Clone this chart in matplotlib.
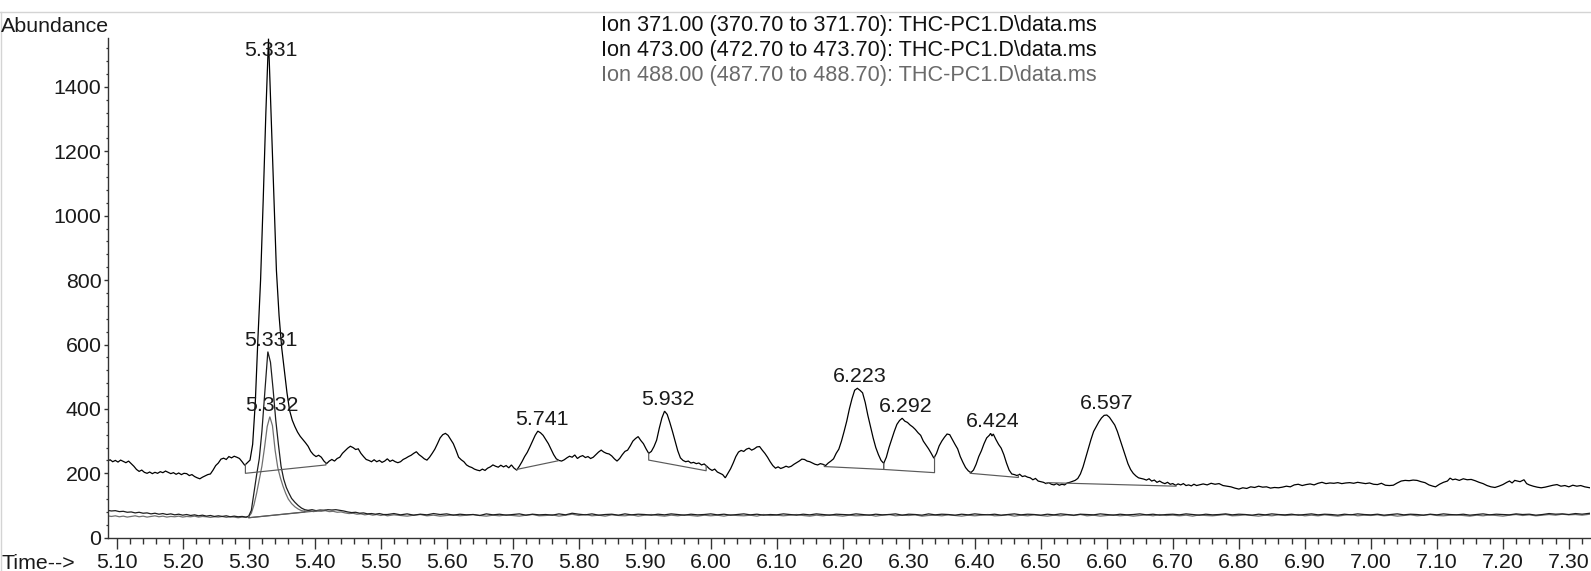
import matplotlib
matplotlib.use("Agg")
import matplotlib.pyplot as plt
from matplotlib.ticker import MultipleLocator, FormatStrFormatter
from matplotlib.lines import Line2D
import numpy as np

plt.rcParams['font.family'] = ['Liberation Sans', 'DejaVu Sans']

# ---------------- data ----------------
ion371 = [
(5.086,238),(5.090,242),(5.094,236),(5.098,240),(5.102,235),(5.106,241),(5.110,237),(5.114,233),(5.118,238),(5.122,230),
(5.126,222),(5.130,212),(5.134,206),(5.138,210),(5.142,203),(5.146,200),(5.150,204),(5.154,199),(5.158,203),(5.162,200),
(5.166,205),(5.170,202),(5.174,207),(5.178,203),(5.182,199),(5.186,202),(5.190,197),(5.194,201),(5.198,196),(5.202,200),
(5.206,199),(5.210,193),(5.214,196),(5.218,190),(5.222,186),(5.226,183),(5.230,188),(5.234,192),(5.238,196),(5.242,198),
(5.246,210),(5.250,224),(5.254,232),(5.258,244),(5.262,247),(5.266,243),(5.270,252),(5.274,248),(5.278,253),(5.282,250),
(5.286,246),(5.290,236),(5.294,225),(5.298,233),(5.302,241),(5.306,290),(5.310,420),(5.314,620),(5.318,800),(5.322,1050),
(5.326,1320),(5.330,1550),(5.334,1310),(5.338,1060),(5.342,830),(5.346,690),(5.350,590),(5.354,520),(5.358,450),(5.362,395),
(5.366,365),(5.370,345),(5.374,328),(5.378,315),(5.382,305),(5.386,295),(5.390,284),(5.394,268),(5.398,258),(5.402,252),
(5.406,256),(5.410,250),(5.414,238),(5.418,230),(5.422,238),(5.426,243),(5.430,238),(5.434,246),(5.438,250),(5.442,262),
(5.446,270),(5.450,278),(5.454,284),(5.458,280),(5.462,274),(5.466,276),(5.470,262),(5.474,252),(5.478,243),(5.482,240),
(5.486,236),(5.490,242),(5.494,236),(5.498,240),(5.502,234),(5.506,238),(5.510,245),(5.514,237),(5.518,241),(5.522,236),
(5.526,233),(5.530,236),(5.534,243),(5.538,247),(5.542,252),(5.546,256),(5.550,262),(5.554,267),(5.558,258),(5.562,252),
(5.566,245),(5.570,241),(5.574,250),(5.578,262),(5.582,275),(5.586,292),(5.590,310),(5.594,320),(5.598,324),(5.602,318),
(5.606,305),(5.610,292),(5.614,272),(5.618,250),(5.622,242),(5.626,236),(5.630,226),(5.634,221),(5.638,218),(5.642,213),
(5.646,210),(5.650,208),(5.654,213),(5.658,209),(5.662,216),(5.666,220),(5.670,226),(5.674,222),(5.678,219),(5.682,225),
(5.686,220),(5.690,224),(5.694,217),(5.698,226),(5.702,216),(5.706,210),(5.710,222),(5.714,236),(5.718,252),(5.722,265),
(5.726,282),(5.730,300),(5.734,318),(5.738,331),(5.742,326),(5.746,318),(5.750,305),(5.754,292),(5.758,275),(5.762,258),
(5.766,245),(5.770,240),(5.774,238),(5.778,242),(5.782,248),(5.786,253),(5.790,250),(5.794,257),(5.798,246),(5.802,252),
(5.806,255),(5.810,249),(5.814,252),(5.818,246),(5.822,250),(5.826,258),(5.830,266),(5.834,272),(5.838,266),(5.842,262),
(5.846,260),(5.850,254),(5.854,245),(5.858,238),(5.862,246),(5.866,258),(5.870,268),(5.874,272),(5.878,285),(5.882,300),
(5.886,308),(5.890,314),(5.894,302),(5.898,292),(5.902,276),(5.906,262),(5.910,268),(5.914,283),(5.918,303),(5.922,340),
(5.926,372),(5.930,393),(5.934,383),(5.938,358),(5.942,330),(5.946,300),(5.950,270),(5.954,248),(5.958,240),(5.962,236),
(5.966,238),(5.970,232),(5.974,234),(5.978,230),(5.982,232),(5.986,226),(5.990,229),(5.994,222),(5.998,214),(6.002,209),
(6.006,213),(6.010,204),(6.014,200),(6.018,196),(6.022,186),(6.026,200),(6.030,214),(6.034,232),(6.038,252),(6.042,266),
(6.046,271),(6.050,268),(6.054,275),(6.058,278),(6.062,272),(6.066,276),(6.070,282),(6.074,283),(6.078,272),(6.082,262),
(6.086,250),(6.090,236),(6.094,224),(6.098,216),(6.102,220),(6.106,215),(6.110,218),(6.114,222),(6.118,219),(6.122,222),
(6.126,228),(6.130,233),(6.134,238),(6.138,244),(6.142,243),(6.146,238),(6.150,236),(6.154,232),(6.158,228),(6.162,226),
(6.166,230),(6.170,228),(6.174,224),(6.178,232),(6.182,238),(6.186,245),(6.190,262),(6.194,275),(6.198,300),(6.202,330),
(6.206,362),(6.210,400),(6.214,432),(6.218,458),(6.222,464),(6.226,458),(6.230,450),(6.234,420),(6.238,380),(6.242,345),
(6.246,310),(6.250,280),(6.254,258),(6.258,240),(6.262,231),(6.266,250),(6.270,280),(6.274,305),(6.278,330),(6.282,352),
(6.286,364),(6.290,371),(6.294,362),(6.298,358),(6.302,350),(6.306,344),(6.310,336),(6.314,326),(6.318,318),(6.322,300),
(6.326,288),(6.330,276),(6.334,262),(6.338,247),(6.342,262),(6.346,285),(6.350,300),(6.354,312),(6.358,322),(6.362,320),
(6.366,305),(6.370,290),(6.374,276),(6.378,252),(6.382,234),(6.386,218),(6.390,208),(6.394,202),(6.398,210),(6.402,228),
(6.406,252),(6.410,270),(6.414,292),(6.418,310),(6.422,318),(6.424,324),(6.426,316),(6.428,322),(6.432,305),(6.436,290),
(6.440,278),(6.444,258),(6.448,232),(6.452,210),(6.456,198),(6.460,196),(6.464,193),(6.468,197),(6.472,190),(6.476,192),
(6.480,188),(6.484,186),(6.488,180),(6.492,184),(6.496,176),(6.500,174),(6.504,172),(6.508,168),(6.512,171),(6.516,166),
(6.520,164),(6.524,168),(6.528,163),(6.532,166),(6.536,164),(6.540,170),(6.544,172),(6.548,175),(6.552,178),(6.556,184),
(6.560,198),(6.564,220),(6.568,248),(6.572,275),(6.576,305),(6.580,330),(6.584,345),(6.588,360),(6.592,372),(6.596,380),
(6.600,381),(6.604,374),(6.608,362),(6.612,350),(6.616,330),(6.620,305),(6.624,280),(6.628,255),(6.632,230),(6.636,212),
(6.640,200),(6.644,192),(6.648,186),(6.652,184),(6.656,182),(6.660,179),(6.664,183),(6.668,176),(6.672,179),(6.676,172),
(6.680,176),(6.684,171),(6.688,168),(6.692,172),(6.696,166),(6.700,168),(6.704,163),(6.708,167),(6.712,164),(6.716,168),
(6.720,162),(6.724,164),(6.728,161),(6.732,166),(6.736,162),(6.740,164),(6.746,167),(6.752,164),(6.758,169),(6.764,166),
(6.770,168),(6.776,162),(6.782,160),(6.788,158),(6.794,154),(6.800,151),(6.806,155),(6.812,153),(6.818,158),(6.824,156),
(6.830,160),(6.836,157),(6.842,158),(6.848,154),(6.854,156),(6.860,155),(6.866,157),(6.872,160),(6.878,158),(6.884,164),
(6.890,166),(6.896,162),(6.902,165),(6.908,167),(6.914,164),(6.920,169),(6.926,172),(6.932,168),(6.938,170),(6.944,169),
(6.950,171),(6.956,168),(6.962,170),(6.968,171),(6.974,169),(6.980,172),(6.986,170),(6.992,168),(6.998,170),(7.004,166),
(7.010,165),(7.016,169),(7.022,163),(7.028,162),(7.034,163),(7.040,170),(7.046,176),(7.052,178),(7.058,177),(7.064,179),
(7.070,178),(7.076,174),(7.082,171),(7.088,164),(7.094,160),(7.098,158),(7.104,166),(7.110,172),(7.116,176),(7.120,185),
(7.124,180),(7.128,182),(7.134,178),(7.140,183),(7.146,180),(7.152,181),(7.158,177),(7.164,172),(7.170,168),(7.176,162),
(7.182,158),(7.188,156),(7.194,160),(7.200,165),(7.206,172),(7.210,176),(7.214,170),(7.218,178),(7.222,176),(7.226,174),
(7.232,180),(7.236,168),(7.240,164),(7.246,160),(7.252,157),(7.258,155),(7.264,157),(7.270,160),(7.276,163),(7.282,165),
(7.288,160),(7.294,162),(7.300,158),(7.306,163),(7.312,160),(7.318,162),(7.324,158),(7.332,155),
]

ion473 = [
(5.086,85),(5.092,83),(5.098,84),(5.104,81),(5.110,82),(5.116,79),(5.122,80),(5.128,77),(5.134,79),(5.140,76),
(5.146,77),(5.152,74),(5.158,76),(5.164,73),(5.170,75),(5.176,72),(5.182,74),(5.188,71),(5.194,73),(5.200,70),
(5.206,72),(5.212,69),(5.218,71),(5.224,68),(5.230,70),(5.236,67),(5.242,69),(5.248,66),(5.254,68),(5.260,66),
(5.266,68),(5.272,65),(5.278,67),(5.284,65),(5.290,66),(5.296,64),(5.300,67),(5.304,85),(5.308,140),(5.312,195),
(5.316,245),(5.320,330),(5.324,440),(5.3275,540),(5.329,578),(5.333,545),(5.337,460),(5.341,365),(5.345,290),(5.349,222),
(5.353,182),(5.357,156),(5.361,138),(5.365,122),(5.370,110),(5.375,100),(5.380,92),(5.385,87),(5.390,85),(5.396,87),
(5.402,84),(5.408,86),(5.414,85),(5.420,87),(5.426,86),(5.432,87),(5.438,85),(5.444,83),(5.450,80),(5.456,78),
(5.462,79),(5.468,76),(5.474,77),(5.480,74),(5.486,75),(5.492,73),(5.498,75),(5.504,72),
(5.51,72),(5.52,75),(5.53,71),(5.54,74),(5.55,70),(5.56,73),(5.57,71),(5.58,75),(5.59,72),(5.60,74),
(5.61,70),(5.62,73),(5.63,71),(5.64,72),(5.65,69),(5.66,74),(5.67,71),(5.68,73),(5.69,70),(5.70,72),
(5.71,74),(5.72,70),(5.73,73),(5.74,71),(5.75,72),(5.76,70),(5.77,74),(5.78,71),(5.79,76),(5.80,73),
(5.81,71),(5.82,74),(5.83,70),(5.84,72),(5.85,73),(5.86,70),(5.87,74),(5.88,71),(5.89,73),(5.90,72),
(5.91,70),(5.92,73),(5.93,71),(5.94,74),(5.95,72),(5.96,70),(5.97,73),(5.98,71),(5.99,72),(6.00,74),
(6.01,71),(6.02,73),(6.03,70),(6.04,72),(6.05,74),(6.06,71),(6.07,73),(6.08,70),(6.09,72),(6.10,71),
(6.11,74),(6.12,72),(6.13,70),(6.14,73),(6.15,71),(6.16,74),(6.17,72),(6.18,70),(6.19,73),(6.20,72),
(6.21,71),(6.22,74),(6.23,72),(6.24,70),(6.25,73),(6.26,71),(6.27,72),(6.28,74),(6.29,70),(6.30,73),
(6.31,72),(6.32,70),(6.33,74),(6.34,71),(6.35,73),(6.36,72),(6.37,70),(6.38,73),(6.39,71),(6.40,74),
(6.41,72),(6.42,71),(6.43,73),(6.44,70),(6.45,72),(6.46,74),(6.47,71),(6.48,73),(6.49,72),(6.50,70),
(6.51,73),(6.52,71),(6.53,74),(6.54,72),(6.55,70),(6.56,73),(6.57,72),(6.58,71),(6.59,74),(6.60,72),
(6.61,70),(6.62,73),(6.63,71),(6.64,72),(6.65,74),(6.66,71),(6.67,73),(6.68,70),(6.69,72),(6.70,73),
(6.71,71),(6.72,74),(6.73,72),(6.74,70),(6.75,73),(6.76,71),(6.77,72),(6.78,74),(6.79,71),(6.80,73),
(6.81,72),(6.82,70),(6.83,73),(6.84,71),(6.85,74),(6.86,72),(6.87,71),(6.88,73),(6.89,70),(6.90,72),
(6.91,74),(6.92,71),(6.93,73),(6.94,72),(6.95,70),(6.96,73),(6.97,71),(6.98,74),(6.99,72),(7.00,71),
(7.01,73),(7.02,70),(7.03,72),(7.04,74),(7.05,71),(7.06,73),(7.07,72),(7.08,70),(7.09,73),(7.10,71),
(7.11,74),(7.12,72),(7.13,71),(7.14,73),(7.15,70),(7.16,72),(7.17,74),(7.18,71),(7.19,73),(7.20,72),
(7.21,71),(7.22,74),(7.23,72),(7.24,73),(7.25,70),(7.26,72),(7.27,75),(7.28,73),(7.29,74),(7.30,72),
(7.31,75),(7.32,73),(7.332,76),
]

ion488 = [
(5.086,68),(5.092,66),(5.098,68),(5.104,65),(5.110,67),(5.116,64),(5.122,66),(5.128,68),(5.134,65),(5.140,67),
(5.146,64),(5.152,66),(5.158,68),(5.164,65),(5.170,67),(5.176,64),(5.182,66),(5.188,65),(5.194,67),(5.200,64),
(5.206,66),(5.212,65),(5.218,67),(5.224,64),(5.230,66),(5.236,65),(5.242,63),(5.248,65),(5.254,64),(5.260,66),
(5.266,63),(5.272,65),(5.278,64),(5.284,62),(5.290,64),(5.296,63),(5.300,65),(5.304,76),(5.308,102),(5.312,138),
(5.316,180),(5.320,222),(5.324,280),(5.328,345),(5.332,376),(5.336,348),(5.340,272),(5.344,218),(5.348,186),(5.352,160),
(5.356,138),(5.360,120),(5.365,106),(5.370,96),(5.375,89),(5.380,84),(5.386,82),(5.392,84),(5.398,81),(5.404,83),
(5.410,82),(5.416,84),(5.422,81),(5.428,82),(5.434,79),(5.440,80),(5.446,77),(5.452,75),(5.458,76),(5.464,73),
(5.470,74),(5.476,71),(5.482,73),(5.488,70),(5.494,72),(5.500,69),(5.505,71),
(5.51,68),(5.52,71),(5.53,69),(5.54,67),(5.55,70),(5.56,72),(5.57,68),(5.58,70),(5.59,67),(5.60,69),
(5.61,71),(5.62,68),(5.63,70),(5.64,72),(5.65,69),(5.66,67),(5.67,70),(5.68,68),(5.69,71),(5.70,69),
(5.71,67),(5.72,70),(5.73,72),(5.74,68),(5.75,69),(5.76,71),(5.77,67),(5.78,70),(5.79,73),(5.80,69),
(5.81,72),(5.82,68),(5.83,70),(5.84,67),(5.85,71),(5.86,69),(5.87,68),(5.88,71),(5.89,67),(5.90,70),
(5.91,72),(5.92,69),(5.93,67),(5.94,70),(5.95,68),(5.96,71),(5.97,69),(5.98,67),(5.99,70),(6.00,68),
(6.01,70),(6.02,67),(6.03,71),(6.04,69),(6.05,68),(6.06,70),(6.07,67),(6.08,72),(6.09,69),(6.10,70),
(6.11,68),(6.12,70),(6.13,72),(6.14,69),(6.15,67),(6.16,70),(6.17,68),(6.18,71),(6.19,69),(6.20,67),
(6.21,70),(6.22,68),(6.23,69),(6.24,71),(6.25,67),(6.26,70),(6.27,72),(6.28,68),(6.29,70),(6.30,69),
(6.31,71),(6.32,67),(6.33,69),(6.34,70),(6.35,68),(6.36,71),(6.37,69),(6.38,67),(6.39,70),(6.40,68),
(6.41,70),(6.42,72),(6.43,68),(6.44,69),(6.45,71),(6.46,67),(6.47,70),(6.48,68),(6.49,71),(6.50,69),
(6.51,67),(6.52,70),(6.53,68),(6.54,71),(6.55,69),(6.56,72),(6.57,68),(6.58,70),(6.59,67),(6.60,69),
(6.61,71),(6.62,68),(6.63,70),(6.64,67),(6.65,69),(6.66,71),(6.67,68),(6.68,72),(6.69,69),(6.70,70),
(6.71,68),(6.72,70),(6.73,67),(6.74,71),(6.75,69),(6.76,68),(6.77,70),(6.78,72),(6.79,68),(6.80,69),
(6.81,71),(6.82,69),(6.83,67),(6.84,70),(6.85,68),(6.86,71),(6.87,69),(6.88,70),(6.89,72),(6.90,68),
(6.91,70),(6.92,68),(6.93,71),(6.94,69),(6.95,67),(6.96,70),(6.97,72),(6.98,68),(6.99,70),(7.00,69),
(7.01,71),(7.02,68),(7.03,70),(7.04,67),(7.05,69),(7.06,71),(7.07,68),(7.08,70),(7.09,72),(7.10,69),
(7.11,68),(7.12,70),(7.13,71),(7.14,69),(7.15,67),(7.16,70),(7.17,68),(7.18,71),(7.19,69),(7.20,67),
(7.21,70),(7.22,72),(7.23,69),(7.24,71),(7.25,68),(7.26,70),(7.27,72),(7.28,70),(7.29,73),(7.30,71),
(7.31,72),(7.32,70),(7.332,73),
]

# integration baselines: (t_start, y_start, t_end, y_end, trace)
baselines = [
    (5.295, 200, 5.417, 226, 'ion371'),
    (5.300, 62, 5.417, 86, 'ion473'),
    (5.300, 62, 5.385, 80, 'ion488'),
    (5.706, 212, 5.769, 239, 'ion371'),
    (5.906, 241, 5.993, 208, 'ion371'),
    (6.172, 221, 6.262, 212, 'ion371'),
    (6.262, 212, 6.339, 202, 'ion371'),
    (6.393, 200, 6.466, 187, 'ion371'),
    (6.509, 171, 6.705, 160, 'ion371'),
]

# peak labels: retention time, apex abundance
peak_rt = [5.331, 5.331, 5.332, 5.741, 5.932, 6.223, 6.292, 6.424, 6.597]
peak_apex = [1550, 578, 376, 331, 393, 464, 371, 324, 381]

legend_lines = [
    "Ion 371.00 (370.70 to 371.70): THC-PC1.D\\data.ms",
    "Ion 473.00 (472.70 to 473.70): THC-PC1.D\\data.ms",
    "Ion 488.00 (487.70 to 488.70): THC-PC1.D\\data.ms",
]

# ---------------- drawing ----------------
W, H = 1591, 571
fig = plt.figure(figsize=(W / 100, H / 100), dpi=100)
fig.patch.set_facecolor('white')

ax_l, ax_b, ax_r, ax_t = 107.7, 537.7, 1590, 37.7
ax = fig.add_axes([ax_l / W, (H - ax_b) / H, (ax_r - ax_l) / W, (ax_b - ax_t) / H])
ax.set_facecolor('none')

traces = {'ion371': ion371, 'ion473': ion473, 'ion488': ion488}
colors = {'ion371': '#000000', 'ion473': '#1e1e1e', 'ion488': '#707070'}

for name in ['ion488', 'ion473', 'ion371']:
    t, y = zip(*traces[name])
    ax.plot(t, y, color=colors[name], lw=0.9, solid_joinstyle='miter')

for t0, y0, t1, y1, name in baselines:
    t, y = zip(*traces[name])
    yt0 = float(np.interp(t0, t, y))
    yt1 = float(np.interp(t1, t, y))
    ax.plot([t0, t0, t1, t1], [yt0, y0, y1, yt1], color='#5a5a5a', lw=0.85)

xmin, xmax = 5.0864, 7.332
ymin, ymax = 0, 1553
ax.set_xlim(xmin, xmax)
ax.set_ylim(ymin, ymax)

for rt, apex in zip(peak_rt, peak_apex):
    ly = min(apex + 36, ymax - 40)
    ax.text(rt + 0.003, ly, f"{rt:.3f}", ha='center', va='center',
            fontsize=15.4, color='#1a1a1a', clip_on=False)

for s in ['top', 'right']:
    ax.spines[s].set_visible(False)
for s in ['left', 'bottom']:
    ax.spines[s].set_color('#333333')
    ax.spines[s].set_linewidth(1.0)

ax.xaxis.set_major_locator(MultipleLocator(0.1))
ax.xaxis.set_minor_locator(MultipleLocator(0.02))
ax.xaxis.set_major_formatter(FormatStrFormatter('%.2f'))
ax.yaxis.set_major_locator(MultipleLocator(200))
ax.yaxis.set_minor_locator(MultipleLocator(40))

ax.tick_params(axis='x', which='major', length=7.6, width=1.0, color='#333333',
               labelsize=15.4, pad=3.2, labelcolor='#1a1a1a')
ax.tick_params(axis='x', which='minor', length=4.1, width=1.0, color='#333333')
ax.tick_params(axis='y', which='major', length=3.0, width=1.0, color='#333333',
               labelsize=15.4, pad=1.4, labelcolor='#1a1a1a')
ax.tick_params(axis='y', which='minor', length=1.8, width=0.9, color='#333333')

# labels outside axes
fig.text(1.0 / W, (H - 32) / H, "Abundance", fontsize=15.4, ha='left', va='baseline', color='#1a1a1a')
fig.text(1.5 / W, (H - 569) / H, "Time-->", fontsize=15.4, ha='left', va='baseline', color='#1a1a1a')

leg_colors = ['#111111', '#111111', '#6a6a6a']
for i, (line, c) in enumerate(zip(legend_lines, leg_colors)):
    fig.text(601 / W, (H - (25.5 + 24.8 * i)) / H, line, fontsize=15.6, ha='left',
             va='center', color=c)

# light frame
fig.add_artist(Line2D([0, 1], [(H - 11.5) / H] * 2, transform=fig.transFigure,
                      color='#d4d4d4', lw=1.0))
fig.add_artist(Line2D([0.5 / W] * 2, [0, (H - 11.5) / H], transform=fig.transFigure,
                      color='#d4d4d4', lw=1.0))

fig.savefig('out.png', dpi=100, facecolor='white')
